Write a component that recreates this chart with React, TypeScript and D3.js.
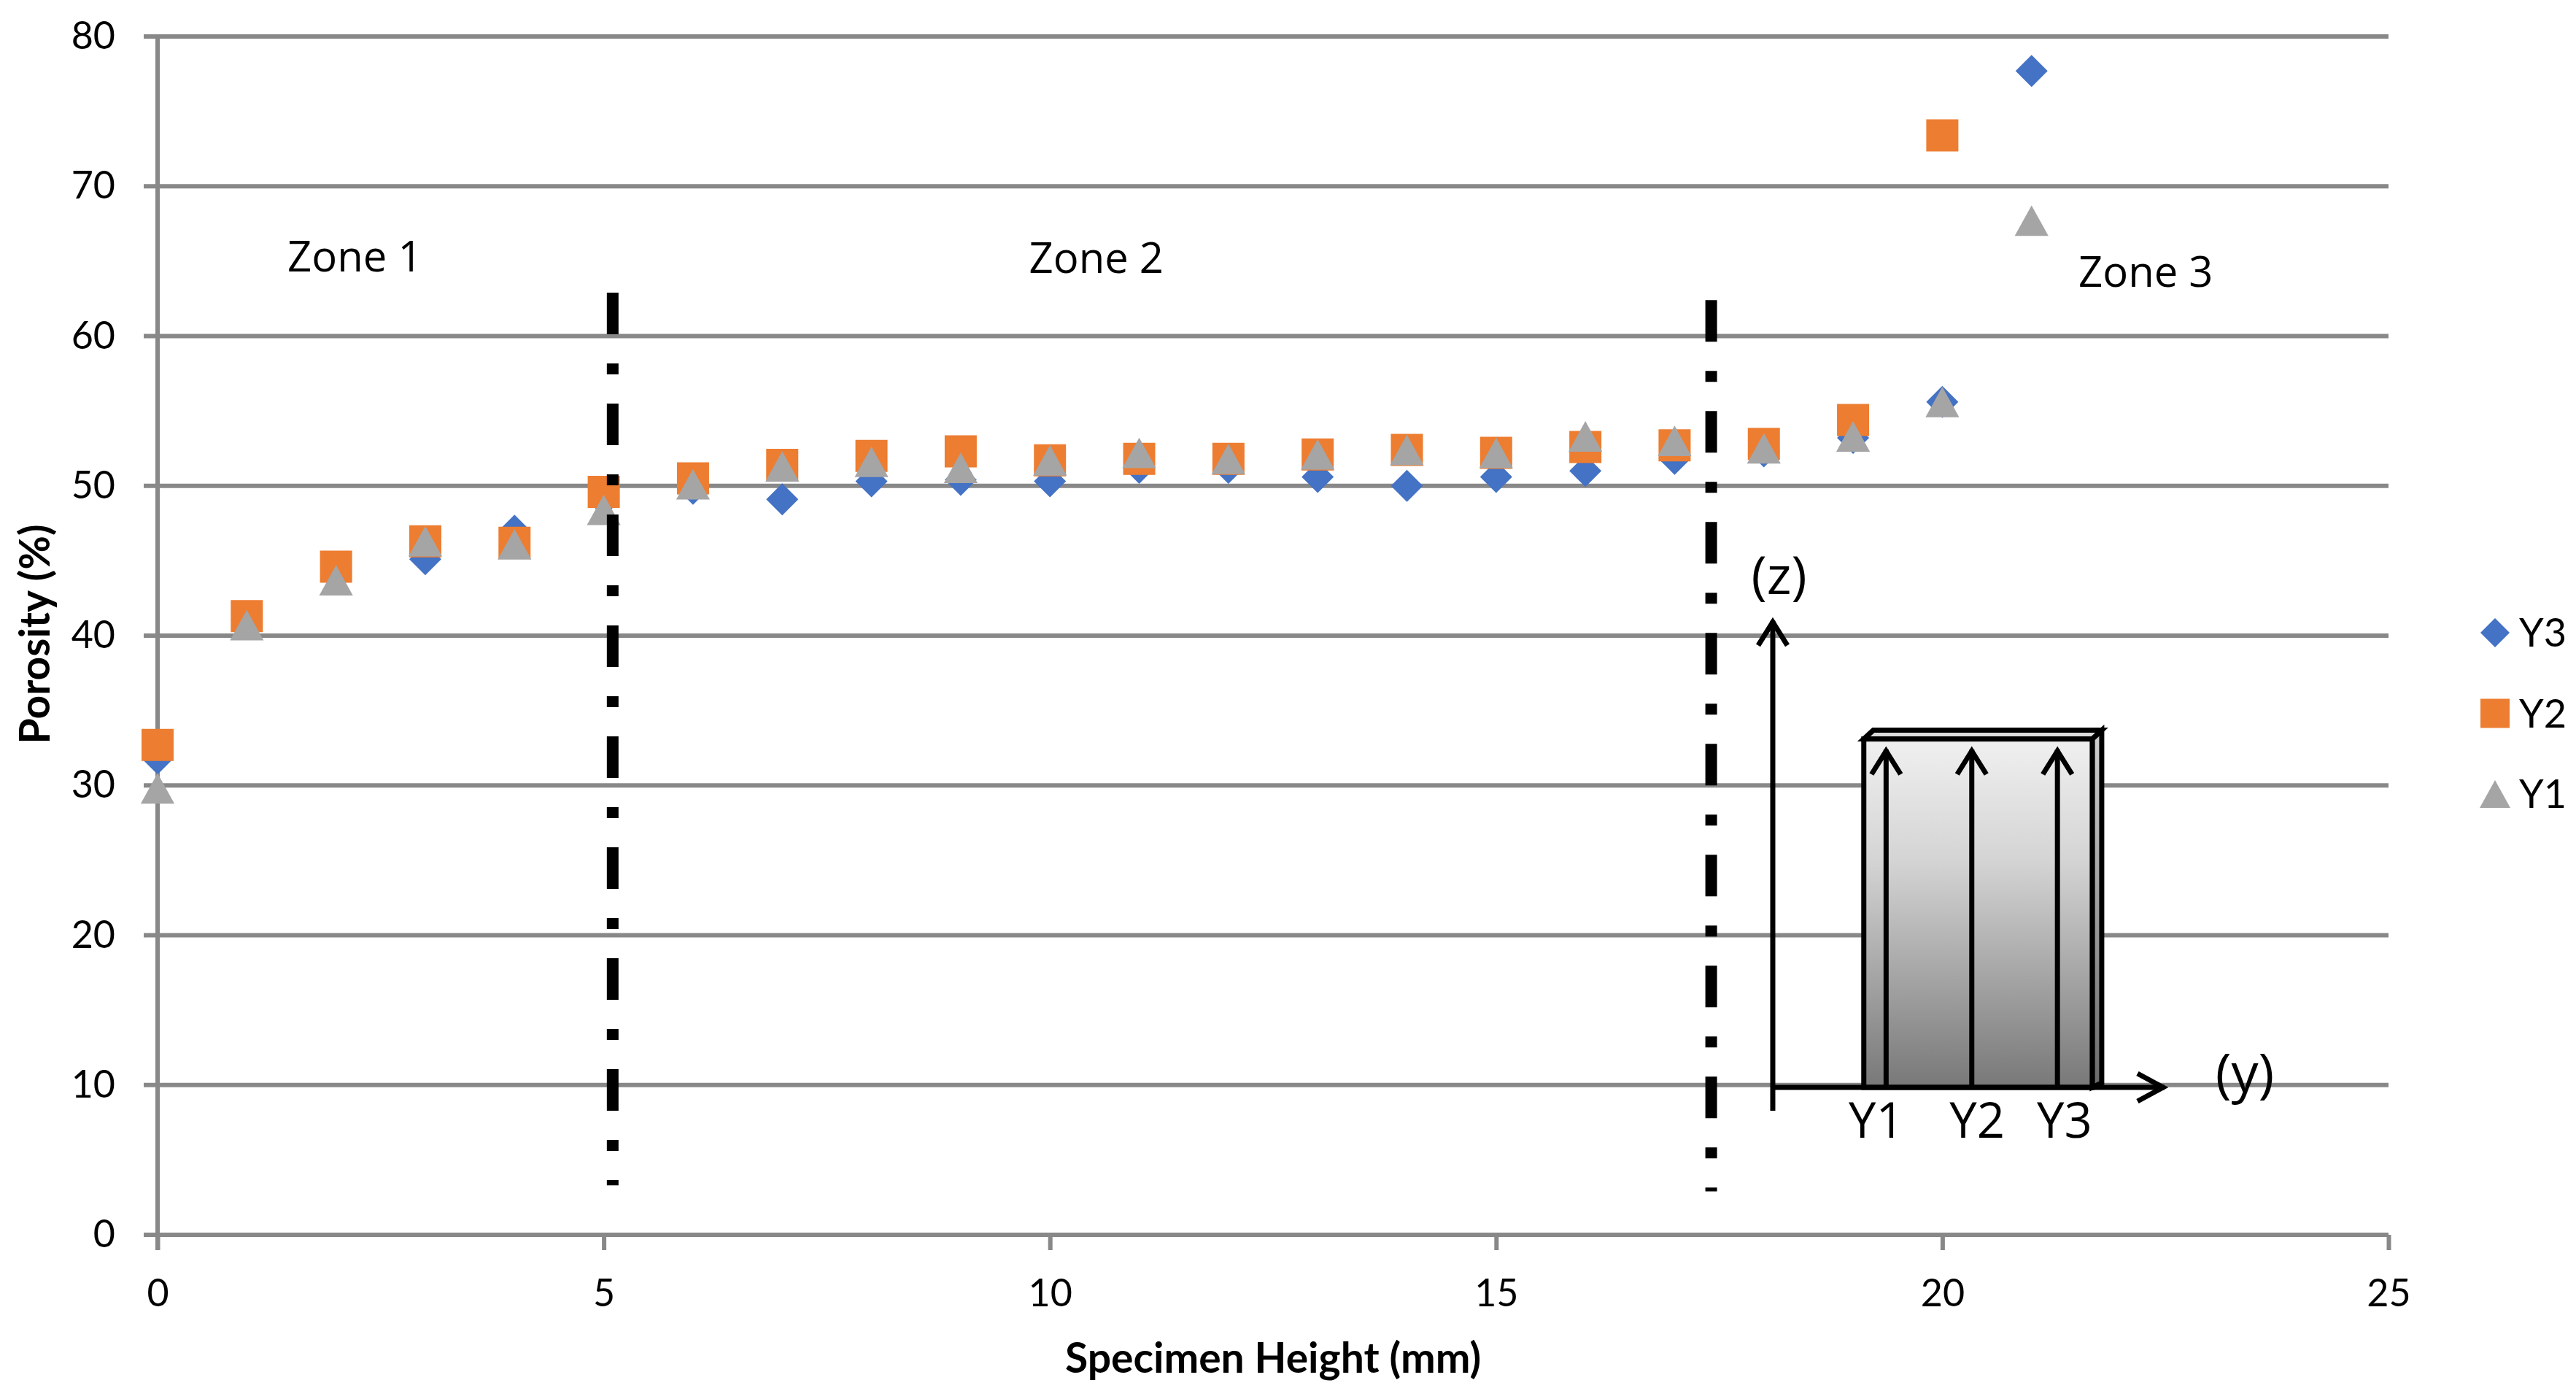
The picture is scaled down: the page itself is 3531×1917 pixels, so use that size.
import React, { useEffect, useRef } from 'react';
import * as d3 from 'd3';

// specimen height (mm) of each slice
const heights = [0, 1, 2, 3, 4, 5, 6, 7, 8, 9, 10, 11, 12, 13, 14, 15, 16, 17, 18, 19, 20, 21];

// porosity (%) per slice
const y3 = [31.8, 41.0, 44.2, 45.1, 47.0, 49.0, 49.8, 49.1, 50.3, 50.4, 50.3, 51.2, 51.2, 50.6, 50.0, 50.6, 51.0, 51.8, 52.3, 53.2, 55.6, 77.7];
const y2 = [32.7, 41.3, 44.6, 46.3, 46.2, 49.6, 50.5, 51.4, 52.0, 52.3, 51.7, 51.8, 51.8, 52.1, 52.4, 52.2, 52.6, 52.7, 52.8, 54.4, 73.4];
const y1 = [29.8, 40.7, 43.7, 46.3, 46.1, 48.4, 50.1, 51.3, 51.6, 51.2, 51.7, 52.2, 51.8, 52.1, 52.4, 52.2, 53.3, 53.0, 52.5, 53.3, 55.6, 67.7];

const seriesNames = ['Y3', 'Y2', 'Y1'];
const seriesValues = [y3, y2, y1];

const xTicks = [0, 5, 10, 15, 20, 25];
const yTicks = [0, 10, 20, 30, 40, 50, 60, 70, 80];

const zoneNames = ['Zone 1', 'Zone 2', 'Zone 3'];

const W = 3531;
const H = 1917;
const margin = { top: 50, right: 257, bottom: 225, left: 216 };

const colors = ['#4472C4', '#ED7D31', '#A5A5A5'];
const shapes = ['diamond', 'square', 'triangle'];
const gridColor = '#888888';
const axisFont = 'Lato, "Noto Sans", sans-serif';
const noteFont = '"Open Sans", "Noto Sans", sans-serif';

// annotation placement, in data units
const zoneAt = [
  { x: 2.21, y: 64.3 },
  { x: 10.52, y: 64.2 },
  { x: 22.28, y: 63.3 },
];
const boundaries = [
  { x: 5.1, top: 62.9, bottom: 3.3 },
  { x: 17.41, top: 62.4, bottom: 2.9 },
];
const inset = {
  ox: 18.1, oy: 9.84, zTip: 41.0, yTip: 22.49,
  boxL: 19.12, boxR: 21.68, boxT: 33.1,
  arrows: [19.37, 20.33, 21.29], arrowTip: 32.4,
  labelX: [19.26, 20.39, 21.37], labelY: 6.48,
  zLabel: { x: 18.17, y: 42.8 }, yLabel: { x: 23.39, y: 9.55 },
};

function markerPath(shape: string, cx: number, cy: number, s: number) {
  const h = s / 2;
  if (shape === 'diamond') return `M${cx},${cy - h}L${cx + h},${cy}L${cx},${cy + h}L${cx - h},${cy}Z`;
  if (shape === 'square') return `M${cx - h},${cy - h}H${cx + h}V${cy + h}H${cx - h}Z`;
  return `M${cx},${cy - h * 0.95}L${cx + h * 1.05},${cy + h * 0.95}L${cx - h * 1.05},${cy + h * 0.95}Z`;
}

const PorosityChart: React.FC = () => {
  const svgRef = useRef<SVGSVGElement>(null);

  useEffect(() => {
    if (!svgRef.current) return;
    const svg = d3.select(svgRef.current);
    svg.selectAll('*').remove();

    const x = d3.scaleLinear().domain([0, 25]).range([margin.left, W - margin.right]);
    const y = d3.scaleLinear().domain([0, 80]).range([H - margin.bottom, margin.top]);

    // gradient for the specimen sketch
    const defs = svg.append('defs');
    const front = defs.append('linearGradient').attr('id', 'front-grad')
      .attr('x1', 0).attr('y1', 0).attr('x2', 0).attr('y2', 1);
    front.append('stop').attr('offset', '0%').attr('stop-color', '#f0f0f0');
    front.append('stop').attr('offset', '35%').attr('stop-color', '#d4d4d4');
    front.append('stop').attr('offset', '100%').attr('stop-color', '#787878');
    const side = defs.append('linearGradient').attr('id', 'side-grad')
      .attr('x1', 0).attr('y1', 0).attr('x2', 0).attr('y2', 1);
    side.append('stop').attr('offset', '0%').attr('stop-color', '#d0d0d0');
    side.append('stop').attr('offset', '100%').attr('stop-color', '#6a6a6a');

    // grid lines (the 0 line doubles as the x axis)
    svg.append('g')
      .selectAll('line')
      .data(yTicks)
      .join('line')
      .attr('x1', x(0) - 19)
      .attr('x2', x(25))
      .attr('y1', d => y(d))
      .attr('y2', d => y(d))
      .attr('stroke', gridColor)
      .attr('stroke-width', 6);

    // y axis line
    svg.append('line')
      .attr('x1', x(0)).attr('x2', x(0))
      .attr('y1', y(80) - 3).attr('y2', y(0) + 21)
      .attr('stroke', gridColor).attr('stroke-width', 6);

    const yAxis = svg.append('g')
      .attr('transform', `translate(${x(0)},0)`)
      .call(d3.axisLeft(y).tickValues(yTicks).tickSize(19).tickSizeOuter(0).tickPadding(39));
    yAxis.select('.domain').remove();
    yAxis.selectAll('.tick line').remove();

    const xAxis = svg.append('g')
      .attr('transform', `translate(0,${y(0)})`)
      .call(d3.axisBottom(x).tickValues(xTicks).tickSize(21).tickSizeOuter(0).tickPadding(40));
    xAxis.select('.domain').remove();
    xAxis.selectAll('.tick line').attr('stroke', gridColor).attr('stroke-width', 6);

    svg.selectAll('.tick text')
      .attr('fill', '#000')
      .attr('font-size', 52)
      .attr('font-family', axisFont);

    // axis titles
    svg.append('text')
      .attr('x', (x(0) + x(25)) / 2)
      .attr('y', 1881)
      .attr('text-anchor', 'middle')
      .attr('font-family', axisFont)
      .attr('font-weight', 700)
      .attr('font-size', 57)
      .text('Specimen Height (mm)');

    svg.append('text')
      .attr('transform', `translate(68,${(y(0) + y(80)) / 2 - 2}) rotate(-90)`)
      .attr('text-anchor', 'middle')
      .attr('font-family', axisFont)
      .attr('font-weight', 700)
      .attr('font-size', 57)
      .text('Porosity (%)');

    // data markers, Y3 first so Y1 ends up on top
    seriesValues.forEach((vals, si) => {
      svg.append('g')
        .selectAll('path')
        .data(vals)
        .join('path')
        .attr('d', (v, i) => markerPath(shapes[si], x(heights[i]), y(v), 44))
        .attr('fill', colors[si]);
    });

    // zone boundaries
    svg.append('g')
      .selectAll('line')
      .data(boundaries)
      .join('line')
      .attr('x1', d => x(d.x)).attr('x2', d => x(d.x))
      .attr('y1', d => y(d.top)).attr('y2', d => y(d.bottom))
      .attr('stroke', '#000')
      .attr('stroke-width', 16)
      .attr('stroke-dasharray', '57 40 15 40');

    svg.append('g')
      .selectAll('text')
      .data(zoneNames)
      .join('text')
      .attr('x', (d, i) => x(zoneAt[i].x))
      .attr('y', (d, i) => y(zoneAt[i].y))
      .attr('text-anchor', 'middle')
      .attr('font-family', noteFont)
      .attr('font-size', 58)
      .text(d => d);

    // specimen sketch
    const sk = svg.append('g').attr('stroke', '#000').attr('stroke-width', 7).attr('fill', 'none');
    const bL = x(inset.boxL), bR = x(inset.boxR), bT = y(inset.boxT), bB = y(inset.oy);
    const dx = 13, dy = 12;
    sk.append('path')
      .attr('d', `M${bR},${bT}L${bR + dx},${bT - dy}V${bB - dy / 2}L${bR},${bB}Z`)
      .attr('fill', 'url(#side-grad)');
    sk.append('path')
      .attr('d', `M${bL},${bT}L${bL + dx},${bT - dy}H${bR + dx}L${bR},${bT}Z`)
      .attr('fill', '#dcdcdc');
    sk.append('rect')
      .attr('x', bL).attr('y', bT)
      .attr('width', bR - bL).attr('height', bB - bT)
      .attr('fill', 'url(#front-grad)');

    const arrowUp = (ax: number, y0: number, y1v: number) => {
      sk.append('line').attr('x1', ax).attr('x2', ax).attr('y1', y0).attr('y2', y1v);
      sk.append('path').attr('d', `M${ax - 20},${y1v + 34}L${ax},${y1v + 2}L${ax + 20},${y1v + 34}`);
    };
    inset.arrows.forEach(a => arrowUp(x(a), bB, y(inset.arrowTip)));

    // (z) and (y) axes of the sketch
    const ox = x(inset.ox), oy = y(inset.oy);
    arrowUp(ox, y(inset.oy) + 32, y(inset.zTip));
    const tipX = x(inset.yTip);
    sk.append('line').attr('x1', ox).attr('x2', tipX).attr('y1', oy).attr('y2', oy);
    sk.append('path').attr('d', `M${tipX - 37},${oy - 19}L${tipX - 2},${oy}L${tipX - 37},${oy + 19}`);

    const notes = svg.append('g').attr('font-family', noteFont).attr('fill', '#000');
    notes.selectAll('text.pos')
      .data(['Y1', 'Y2', 'Y3'])
      .join('text')
      .attr('class', 'pos')
      .attr('x', (d, i) => x(inset.labelX[i]))
      .attr('y', y(inset.labelY))
      .attr('text-anchor', 'middle')
      .attr('font-size', 67)
      .text(d => d);
    notes.append('text')
      .attr('x', x(inset.zLabel.x)).attr('y', y(inset.zLabel.y))
      .attr('text-anchor', 'middle').attr('font-size', 72).text('(z)');
    notes.append('text')
      .attr('x', x(inset.yLabel.x)).attr('y', y(inset.yLabel.y))
      .attr('text-anchor', 'middle').attr('font-size', 74).text('(y)');

    // legend
    const legend = svg.append('g').attr('transform', 'translate(3420,867)');
    seriesNames.forEach((name, i) => {
      legend.append('path')
        .attr('d', markerPath(shapes[i], 0, i * 110.5, 40))
        .attr('fill', colors[i]);
      legend.append('text')
        .attr('x', 33)
        .attr('y', i * 110.5)
        .attr('dy', '0.36em')
        .attr('font-family', axisFont)
        .attr('font-size', 54)
        .text(name);
    });
  }, []);

  return (
    <svg
      ref={svgRef}
      width={W}
      height={H}
      style={{ position: 'absolute', left: 0, top: 0, background: '#fff', display: 'block' }}
    />
  );
};

export default function App() {
  return <PorosityChart />;
}
